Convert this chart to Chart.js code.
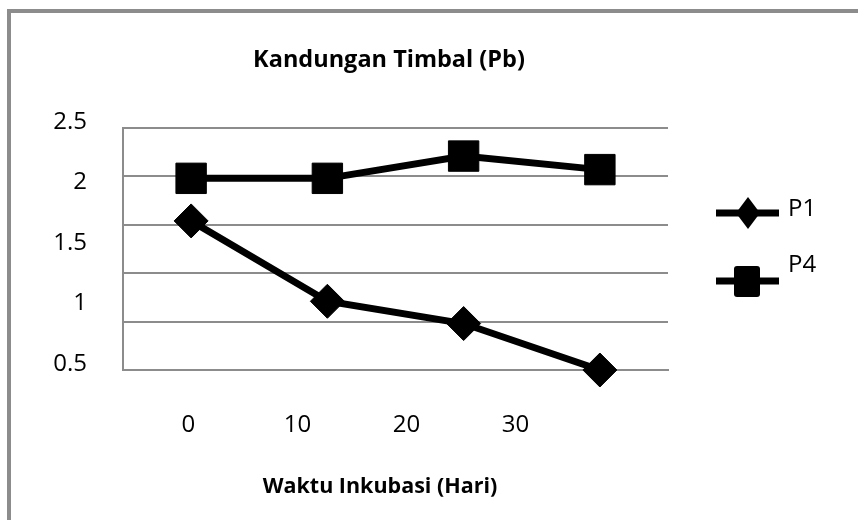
<!DOCTYPE html>
<html>
<head>
<meta charset="utf-8">
<title>Kandungan Timbal (Pb)</title>
<script src="https://cdn.jsdelivr.net/npm/chart.js@4.4.1/dist/chart.umd.min.js"></script>
<style>
  html, body { margin: 0; padding: 0; background: #fff; }
</style>
</head>
<body>
<canvas id="grafik" width="858" height="520"></canvas>
<script>
//data
const hari = ['0', '10', '20', '30'];
const p1 = [1.54, 0.71, 0.48, 0];
const p4 = [1.98, 1.98, 2.21, 2.07];
const labelHari = [0, 10, 20, 30];
const namaSeri = ['P1', 'P4'];
const judul = 'Kandungan Timbal (Pb)';
const judulX = 'Waktu Inkubasi (Hari)';

const huruf = '"Open Sans", "Noto Sans", sans-serif';
const abu = '#8c8c8c';

//bingkai, judul dan legenda
const hiasan = {
    id: 'hiasan',
    beforeDraw(chart) {
        const c = chart.ctx;
        c.save();
        c.fillStyle = '#fff';
        c.fillRect(0, 0, chart.width, chart.height);
        c.fillStyle = abu;
        c.fillRect(7, 9, chart.width - 7, 4);
        c.fillRect(7, 9, 4, chart.height - 9);
        c.restore();
    },
    afterDraw(chart) {
        const c = chart.ctx;
        const a = chart.chartArea;
        c.save();
        c.fillStyle = '#000';
        c.textAlign = 'center';
        c.textBaseline = 'alphabetic';
        c.font = 'bold 23.5px ' + huruf;
        c.fillText(judul, a.left + 266, a.top - 61);
        c.font = 'bold 21.5px ' + huruf;
        c.fillText(judulX, a.left + 257, a.bottom + 123);

        const teksY = [a.top + 88, a.top + 144];
        chart.data.datasets.forEach((ds, i) => {
            const ly = a.top + 85 + i * 68;
            const mx = a.right + 80;
            c.strokeStyle = ds.borderColor;
            c.lineWidth = 7;
            c.beginPath();
            c.moveTo(a.right + 48, ly);
            c.lineTo(a.right + 111, ly);
            c.stroke();
            c.fillStyle = ds.pointBackgroundColor;
            c.beginPath();
            if (ds.pointStyle === 'rectRot') {
                c.moveTo(mx, ly - 16);
                c.lineTo(mx + 12, ly);
                c.lineTo(mx, ly + 16);
                c.lineTo(mx - 12, ly);
                c.closePath();
            } else {
                c.roundRect(mx - 14, ly - 15, 26, 31, 3);
            }
            c.fill();
            c.fillStyle = '#000';
            c.textAlign = 'left';
            c.font = '24px ' + huruf;
            c.fillText(ds.label, a.right + 120, teksY[i]);
        });
        c.restore();
    }
};

const config = {
    type: 'line',
    data: {
        labels: hari,
        datasets: [{
            label: namaSeri[0],
            data: p1,
            borderColor: '#000',
            backgroundColor: '#000',
            borderWidth: 7,
            pointStyle: 'rectRot',
            pointRadius: 17,
            pointBackgroundColor: '#000',
            pointBorderColor: '#000',
            pointBorderWidth: 1,
            clip: false,
        }, {
            label: namaSeri[1],
            data: p4,
            borderColor: '#000',
            backgroundColor: '#000',
            borderWidth: 7,
            pointStyle: 'rect',
            pointRadius: 21.5,
            pointBackgroundColor: '#000',
            pointBorderColor: '#000',
            pointBorderWidth: 1,
            clip: false,
        }],
    },
    options: {
        responsive: false,
        animation: false,
        layout: { padding: { left: 10, top: 128, right: 190, bottom: 70 } },
        plugins: {
            legend: { display: false },
            tooltip: { enabled: false },
            title: { display: false },
        },
        scales: {
            x: {
                type: 'category',
                offset: true,
                grid: { display: false, drawTicks: false },
                border: { display: true, color: abu, width: 2 },
                ticks: { display: false },
                afterFit(s) { s.height = 0; },
            },
            xl: {
                type: 'linear',
                position: 'bottom',
                min: -6,
                max: 44,
                grid: { display: false, drawTicks: false },
                border: { display: false },
                ticks: { padding: 41, color: '#000', font: { family: huruf, size: 24 } },
                afterBuildTicks(s) { s.ticks = labelHari.map(v => ({ value: v })); },
                afterFit(s) { s.height = 80; },
            },
            y: {
                type: 'linear',
                position: 'left',
                min: 0,
                max: 2.5,
                ticks: { stepSize: 0.5, display: false },
                grid: { color: abu, lineWidth: 2, drawTicks: false },
                border: { display: true, color: abu, width: 2 },
                afterFit(s) { s.width = 0; },
            },
            yl: {
                type: 'linear',
                position: 'left',
                min: 0.5,
                max: 2.5,
                grid: { display: false, drawTicks: false },
                border: { display: false },
                ticks: {
                    stepSize: 0.5,
                    padding: 36,
                    labelOffset: -6,
                    color: '#000',
                    font: { family: huruf, size: 24 },
                    callback: v => String(v),
                },
                afterFit(s) { s.width = 113; },
            },
        },
    },
    plugins: [hiasan],
};

new Chart(document.getElementById('grafik'), config);
</script>
</body>
</html>
